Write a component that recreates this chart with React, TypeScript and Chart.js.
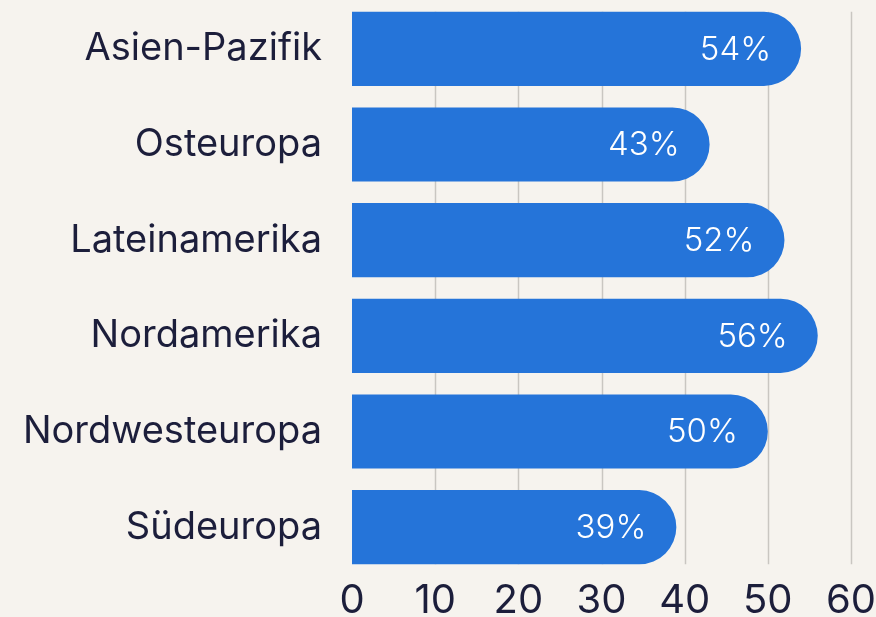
import React, { useEffect, useRef } from "react";
import { Chart, registerables } from "chart.js";

Chart.register(...registerables);

const categories = ["Asien-Pazifik", "Osteuropa", "Lateinamerika", "Nordamerika", "Nordwesteuropa", "Südeuropa"];
const values = [54, 43, 52, 56, 50, 39];
const xTicks = [0, 10, 20, 30, 40, 50, 60];

const BG = "#f6f3ee";
const BAR = "#2574d9";
const TEXT = "#1c1e3b";
const GRID = "#c9c6c1";
const FONT = "Inter, 'Noto Sans', sans-serif";

const gridPlugin = {
  id: "customGrid",
  beforeDatasetsDraw(chart: any) {
    const meta = chart.getDatasetMeta(0);
    const els = meta.data;
    if (!els.length) return;
    const first = els[0].getProps(["y", "height"], true);
    const last = els[els.length - 1].getProps(["y", "height"], true);
    const top = first.y - first.height / 2;
    const bottom = last.y + last.height / 2;
    const xs = chart.scales.x;
    const ctx = chart.ctx;
    ctx.save();
    ctx.strokeStyle = GRID;
    ctx.lineWidth = 1.5;
    xTicks.forEach((t) => {
      if (t === 0) return;
      const px = Math.round(xs.getPixelForValue(t)) + 0.5;
      ctx.beginPath();
      ctx.moveTo(px, top);
      ctx.lineTo(px, bottom);
      ctx.stroke();
    });
    ctx.restore();
  },
};

const labelPlugin = {
  id: "valueLabels",
  afterDatasetsDraw(chart: any) {
    const meta = chart.getDatasetMeta(0);
    const ctx = chart.ctx;
    ctx.save();
    ctx.fillStyle = "#ffffff";
    ctx.font = `300 33px ${FONT}`;
    ctx.textAlign = "right";
    ctx.textBaseline = "middle";
    meta.data.forEach((el: any, i: number) => {
      const p = el.getProps(["x", "y"], true);
      ctx.fillText(`${values[i]}%`, p.x - 30, p.y + 1);
    });
    ctx.restore();
  },
};

export default function App() {
  const ref = useRef<HTMLCanvasElement>(null);
  useEffect(() => {
    document.body.style.margin = "0";
    document.body.style.background = BG;
    const chart = new Chart(ref.current!, {
      type: "bar",
      data: {
        labels: categories,
        datasets: [
          {
            data: values,
            backgroundColor: BAR,
            borderRadius: 40,
            borderSkipped: "start",
            barPercentage: 0.775,
            categoryPercentage: 1,
          },
        ],
      },
      options: {
        indexAxis: "y",
        animation: false,
        responsive: false,
        maintainAspectRatio: false,
        layout: { padding: { top: 1, right: 25, left: 0, bottom: 0 } },
        plugins: { legend: { display: false }, tooltip: { enabled: false } },
        scales: {
          x: {
            min: 0,
            max: 60,
            afterBuildTicks: (s: any) => {
              s.ticks = xTicks.map((v) => ({ value: v }));
            },
            afterFit: (s: any) => {
              s.height = 42;
              s.paddingLeft = 0;
              s.paddingRight = 0;
            },
            grid: { display: false, drawTicks: false },
            border: { display: false },
            ticks: {
              color: TEXT,
              font: { family: FONT, size: 40, weight: 400 },
              padding: 2,
              maxRotation: 0,
            },
          },
          y: {
            afterFit: (s: any) => {
              s.width = 352;
              s.paddingTop = 0;
              s.paddingBottom = 0;
            },
            grid: { display: false, drawTicks: false },
            border: { display: false },
            ticks: {
              color: TEXT,
              font: { family: FONT, size: 38, weight: 400 },
              padding: 30,
            },
          },
        },
      },
      plugins: [gridPlugin, labelPlugin],
    });
    return () => chart.destroy();
  }, []);
  return (
    <div style={{ width: 876, height: 617, background: BG }}>
      <canvas ref={ref} width={876} height={617} style={{ display: "block" }} />
    </div>
  );
}
